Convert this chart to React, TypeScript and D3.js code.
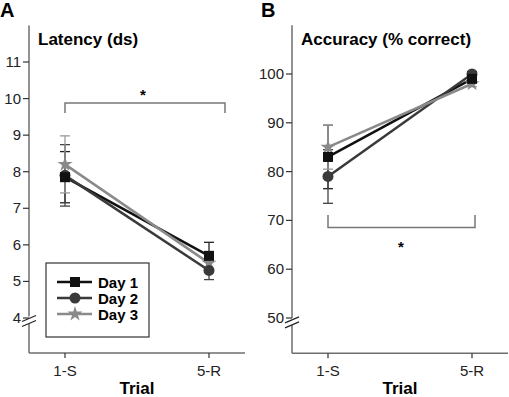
import React from "react";
import * as d3 from "d3";

const trials = ["1-S", "5-R"];
const days = ["Day 1", "Day 2", "Day 3"];
const latencyMean = [
  [7.85, 5.7],
  [7.9, 5.3],
  [8.2, 5.5],
];
const latencyErr = [
  [0.7, 0.37],
  [0.84, 0.25],
  [0.78, 0.2],
];
const accuracyMean = [
  [83, 99],
  [79, 100],
  [85, 98],
];
const accuracyErr = [
  [6.5, 0.6],
  [5.5, 0.5],
  [4.5, 0.6],
];
const latencyTicks = [4, 5, 6, 7, 8, 9, 10, 11];
const accuracyTicks = [50, 60, 70, 80, 90, 100];

const colors = ["#111111", "#3a3a3a", "#8a8a8a"];
const errColors = ["#222222", "#444444", "#999999"];
const axisColor = "#6e6e6e";
const FONT = "'Liberation Sans Narrow', 'Liberation Sans', Arial, sans-serif";
const BOLD = "'Liberation Sans', Arial, sans-serif";

function Marker({ kind, x, y, color }: { kind: number; x: number; y: number; color: string }) {
  if (kind === 0) return <rect x={x - 5} y={y - 5} width={10} height={10} fill={color} />;
  if (kind === 1) return <circle cx={x} cy={y} r={5.5} fill={color} />;
  const star = d3.symbol().type(d3.symbolStar).size(70)();
  return <path d={star as string} transform={`translate(${x},${y})`} fill={color} />;
}

type PanelProps = {
  letter: string;
  letterX: number;
  title: string;
  axisX: number;
  axisRight: number;
  xPositions: [number, number];
  y: d3.ScaleLinear<number, number>;
  ticks: number[];
  means: number[][];
  errs: number[][];
  topVal: number;
  baseVal: number;
  breakVal: number;
};

function Panel(p: PanelProps) {
  const x = d3.scalePoint<string>().domain(trials).range(p.xPositions);
  const baseY = p.y(p.baseVal);
  const topY = p.y(p.topVal);
  const bY = p.y(p.breakVal);
  const line = d3
    .line<[string, number]>()
    .x((d) => x(d[0]) as number)
    .y((d) => p.y(d[1]));
  return (
    <g>
      <text x={p.letterX} y={17} fontFamily={BOLD} fontWeight="bold" fontSize={20}>
        {p.letter}
      </text>
      <text x={p.axisX + 9} y={45} fontFamily={BOLD} fontWeight="bold" fontSize={17}>
        {p.title}
      </text>
      {/* y axis */}
      <line x1={p.axisX} x2={p.axisX} y1={topY} y2={bY - 4} stroke={axisColor} strokeWidth={1.5} />
      <line x1={p.axisX} x2={p.axisX} y1={bY + 3} y2={baseY} stroke={axisColor} strokeWidth={1.5} />
      <line x1={p.axisX - 7} x2={p.axisX + 7} y1={bY + 1} y2={bY - 5} stroke="#222" strokeWidth={1.2} />
      <line x1={p.axisX - 7} x2={p.axisX + 7} y1={bY + 6} y2={bY} stroke="#222" strokeWidth={1.2} />
      {p.ticks.map((t) => (
        <g key={t}>
          <line x1={p.axisX - 6} x2={p.axisX} y1={p.y(t)} y2={p.y(t)} stroke="#333" strokeWidth={1.2} />
          <text
            x={p.axisX - 8}
            y={p.y(t) + 5}
            textAnchor="end"
            fontFamily={FONT}
            fontSize={15}
            fill="#222"
          >
            {t}
          </text>
        </g>
      ))}
      {/* x axis */}
      <line x1={p.axisX} x2={p.axisRight} y1={baseY} y2={baseY} stroke={axisColor} strokeWidth={1.5} />
      {trials.map((t) => (
        <g key={t}>
          <line x1={x(t)} x2={x(t)} y1={baseY} y2={baseY + 5} stroke="#333" strokeWidth={1.2} />
          <text x={x(t)} y={baseY + 23} textAnchor="middle" fontFamily={FONT} fontSize={15} fill="#222">
            {t}
          </text>
        </g>
      ))}
      <text
        x={(p.xPositions[0] + p.xPositions[1]) / 2}
        y={baseY + 41}
        textAnchor="middle"
        fontFamily={BOLD}
        fontWeight="bold"
        fontSize={17}
      >
        Trial
      </text>
      {/* error bars */}
      {p.means.map((row, i) =>
        row.map((m, j) => {
          const cx = x(trials[j]) as number;
          const e = p.errs[i][j];
          return (
            <g key={`e${i}${j}`} stroke={errColors[i]} strokeWidth={1.3}>
              <line x1={cx} x2={cx} y1={p.y(m + e)} y2={p.y(m - e)} />
              <line x1={cx - 5} x2={cx + 5} y1={p.y(m + e)} y2={p.y(m + e)} />
              <line x1={cx - 5} x2={cx + 5} y1={p.y(m - e)} y2={p.y(m - e)} />
            </g>
          );
        })
      )}
      {/* lines */}
      {p.means.map((row, i) => (
        <path
          key={`l${i}`}
          d={line(row.map((v, j) => [trials[j], v] as [string, number])) as string}
          fill="none"
          stroke={colors[i]}
          strokeWidth={2.5}
        />
      ))}
      {p.means
        .map((row, i) => ({ row, i }))
        .reverse()
        .map(({ row, i }) =>
          row.map((m, j) => (
            <Marker key={`m${i}${j}`} kind={i} x={x(trials[j]) as number} y={p.y(m)} color={colors[i]} />
          ))
        )}
    </g>
  );
}

export default function App() {
  const yA = d3.scaleLinear().domain([4, 11]).range([318, 62]);
  const yB = d3.scaleLinear().domain([50, 100]).range([318, 74]);
  return (
    <svg width={509} height={397} style={{ display: "block", position: "absolute", left: 0, top: 0 }}>
      <rect width={509} height={397} fill="#fff" />
      <Panel
        letter="A"
        letterX={0}
        title="Latency (ds)"
        axisX={29}
        axisRight={245}
        xPositions={[65, 209]}
        y={yA}
        ticks={latencyTicks}
        means={latencyMean}
        errs={latencyErr}
        topVal={12}
        baseVal={3.04}
        breakVal={3.93}
      />
      <Panel
        letter="B"
        letterX={261}
        title="Accuracy (% correct)"
        axisX={292}
        axisRight={508}
        xPositions={[328, 472]}
        y={yB}
        ticks={accuracyTicks}
        means={accuracyMean}
        errs={accuracyErr}
        topVal={110}
        baseVal={42.8}
        breakVal={49.2}
      />
      {/* significance bracket A */}
      <path d="M65,113 V103 H225 V113" fill="none" stroke="#777" strokeWidth={1.5} />
      <text x={143} y={100} textAnchor="middle" fontFamily={BOLD} fontWeight="bold" fontSize={15}>
        *
      </text>
      {/* significance bracket B */}
      <path d="M328,215 V227.5 H475 V215" fill="none" stroke="#777" strokeWidth={1.5} />
      <text x={401} y={252} textAnchor="middle" fontFamily={BOLD} fontWeight="bold" fontSize={15}>
        *
      </text>
      {/* legend */}
      <rect x={46} y={263} width={103} height={74} fill="#fff" stroke="#333" strokeWidth={1.2} />
      {days.map((d, i) => {
        const ly = 282 + i * 16;
        return (
          <g key={d}>
            <line x1={57} x2={92} y1={ly} y2={ly} stroke={colors[i]} strokeWidth={2.5} />
            <Marker kind={i} x={75} y={ly} color={colors[i]} />
            <text x={98} y={ly + 6} fontFamily={BOLD} fontWeight="bold" fontSize={15}>
              {d}
            </text>
          </g>
        );
      })}
    </svg>
  );
}
